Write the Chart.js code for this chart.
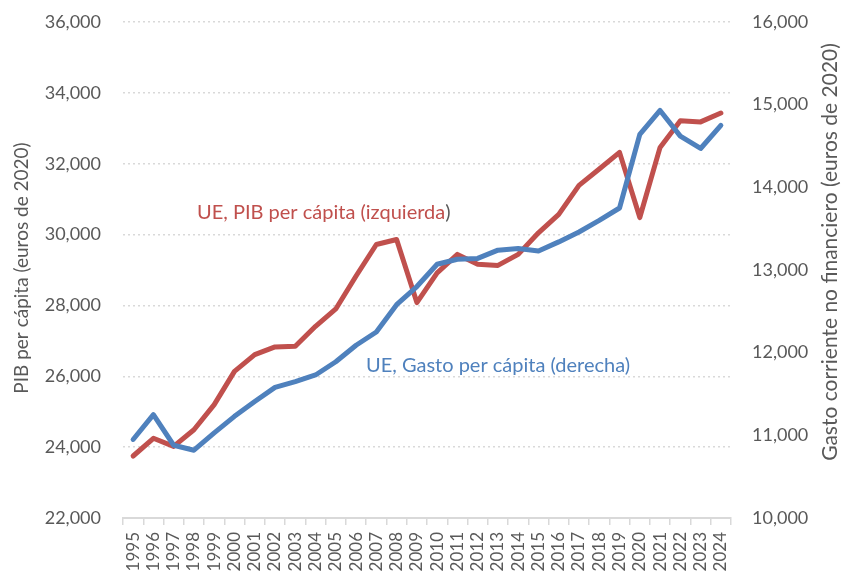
<!DOCTYPE html>
<html lang="es">
<head>
<meta charset="UTF-8">
<title>UE: PIB y gasto per cápita</title>
<script src="https://cdn.jsdelivr.net/npm/chart.js"></script>
<style>
    html, body { margin: 0; padding: 0; background: #fff; }
    #wrap { width: 842px; height: 575px; }
</style>
</head>
<body>
<div id="wrap"><canvas id="chart" width="842" height="575"></canvas></div>
<script>
    // datos
    const years = ['1995','1996','1997','1998','1999','2000','2001','2002','2003','2004',
                   '2005','2006','2007','2008','2009','2010','2011','2012','2013','2014',
                   '2015','2016','2017','2018','2019','2020','2021','2022','2023','2024'];
    // PIB per cápita, euros de 2020 (eje izquierdo)
    const pibPerCapita = [23750, 24250, 24020, 24490, 25200, 26140, 26610, 26830, 26850, 27410,
                          27900, 28830, 29720, 29860, 28080, 28920, 29440, 29160, 29130, 29440,
                          30050, 30570, 31390, 31850, 32320, 30480, 32460, 33210, 33180, 33430];
    // Gasto corriente no financiero per cápita, euros de 2020 (eje derecho)
    const gastoPerCapita = [10950, 11250, 10880, 10820, 11030, 11230, 11410, 11580, 11650, 11730,
                            11890, 12090, 12250, 12580, 12800, 13070, 13130, 13140, 13240, 13260,
                            13230, 13340, 13460, 13600, 13750, 14640, 14930, 14620, 14470, 14750];
    const leftMin = 22000, leftMax = 36000, leftStep = 2000;
    const rightMin = 10000, rightMax = 16000, rightStep = 1000;

    const RED = '#C0504D';
    const BLUE = '#4F81BD';
    const GREY = '#595959';
    const FONT = 'Lato, "Open Sans", sans-serif';

    const fmt = v => v.toLocaleString('en-US');

    // títulos de ejes (ambos se leen de abajo arriba) y etiquetas de series
    const labelsPlugin = {
        id: 'seriesLabels',
        afterDraw(chart) {
            const ctx = chart.ctx;
            ctx.save();
            ctx.textBaseline = 'middle';

            ctx.fillStyle = GREY;
            ctx.textAlign = 'center';
            ctx.save();
            ctx.translate(22, 268);
            ctx.rotate(-Math.PI / 2);
            ctx.font = '19px ' + FONT;
            ctx.fillText('PIB per cápita (euros de 2020)', 0, 0);
            ctx.restore();

            ctx.save();
            ctx.translate(830, 252);
            ctx.rotate(-Math.PI / 2);
            ctx.font = '21px ' + FONT;
            ctx.fillText('Gasto corriente no financiero (euros de 2020)', 0, 0);
            ctx.restore();

            ctx.font = '20px ' + FONT;
            ctx.textAlign = 'left';
            // etiqueta roja, con el paréntesis final en gris
            const t1 = 'UE, PIB per cápita (izquierda';
            ctx.fillStyle = RED;
            ctx.fillText(t1, 197, 213);
            ctx.fillStyle = GREY;
            ctx.fillText(')', 197 + ctx.measureText(t1).width, 213);
            // etiqueta azul
            ctx.fillStyle = BLUE;
            ctx.fillText('UE, Gasto per cápita (derecha)', 366, 366);
            ctx.restore();
        }
    };

    new Chart(document.getElementById('chart').getContext('2d'), {
        type: 'line',
        data: {
            labels: years,
            datasets: [
                {
                    label: 'UE, Gasto per cápita (derecha)',
                    data: gastoPerCapita,
                    yAxisID: 'y1',
                    borderColor: BLUE,
                    borderWidth: 5,
                    pointRadius: 0,
                    tension: 0,
                    borderJoinStyle: 'round',
                    borderCapStyle: 'round'
                },
                {
                    label: 'UE, PIB per cápita (izquierda)',
                    data: pibPerCapita,
                    yAxisID: 'y',
                    borderColor: RED,
                    borderWidth: 5,
                    pointRadius: 0,
                    tension: 0,
                    borderJoinStyle: 'round',
                    borderCapStyle: 'round'
                }
            ]
        },
        options: {
            responsive: false,
            animation: false,
            layout: { padding: { top: 22, right: 0, bottom: 0, left: 0 } },
            plugins: {
                legend: { display: false },
                tooltip: { enabled: false }
            },
            scales: {
                x: {
                    offset: true,
                    grid: {
                        offset: true,
                        drawOnChartArea: false,
                        drawTicks: true,
                        tickLength: 7,
                        color: '#d9d9d9',
                        lineWidth: 1.5
                    },
                    border: { display: true, color: '#d9d9d9', width: 2 },
                    ticks: {
                        minRotation: 90,
                        maxRotation: 90,
                        autoSkip: false,
                        padding: 7,
                        color: GREY,
                        font: { family: FONT, size: 17 }
                    },
                    afterFit(scale) { scale.height = 57; }
                },
                y: {
                    position: 'left',
                    min: leftMin,
                    max: leftMax,
                    grid: {
                        color: '#d9d9d9',
                        lineWidth: 1.5,
                        drawTicks: false
                    },
                    border: { display: false, dash: [2, 3] },
                    ticks: {
                        stepSize: leftStep,
                        padding: 22,
                        color: GREY,
                        font: { family: FONT, size: 18 },
                        callback: v => fmt(v)
                    },
                    afterFit(scale) {
                        scale.width = 123;
                        scale.paddingTop = 0;
                        scale.paddingBottom = 0;
                    }
                },
                y1: {
                    position: 'right',
                    min: rightMin,
                    max: rightMax,
                    grid: { display: false, drawTicks: false },
                    border: { display: false },
                    ticks: {
                        stepSize: rightStep,
                        padding: 21,
                        color: GREY,
                        font: { family: FONT, size: 18 },
                        callback: v => fmt(v)
                    },
                    afterFit(scale) {
                        scale.width = 111;
                        scale.paddingTop = 0;
                        scale.paddingBottom = 0;
                    }
                }
            }
        },
        plugins: [labelsPlugin]
    });
</script>
</body>
</html>
